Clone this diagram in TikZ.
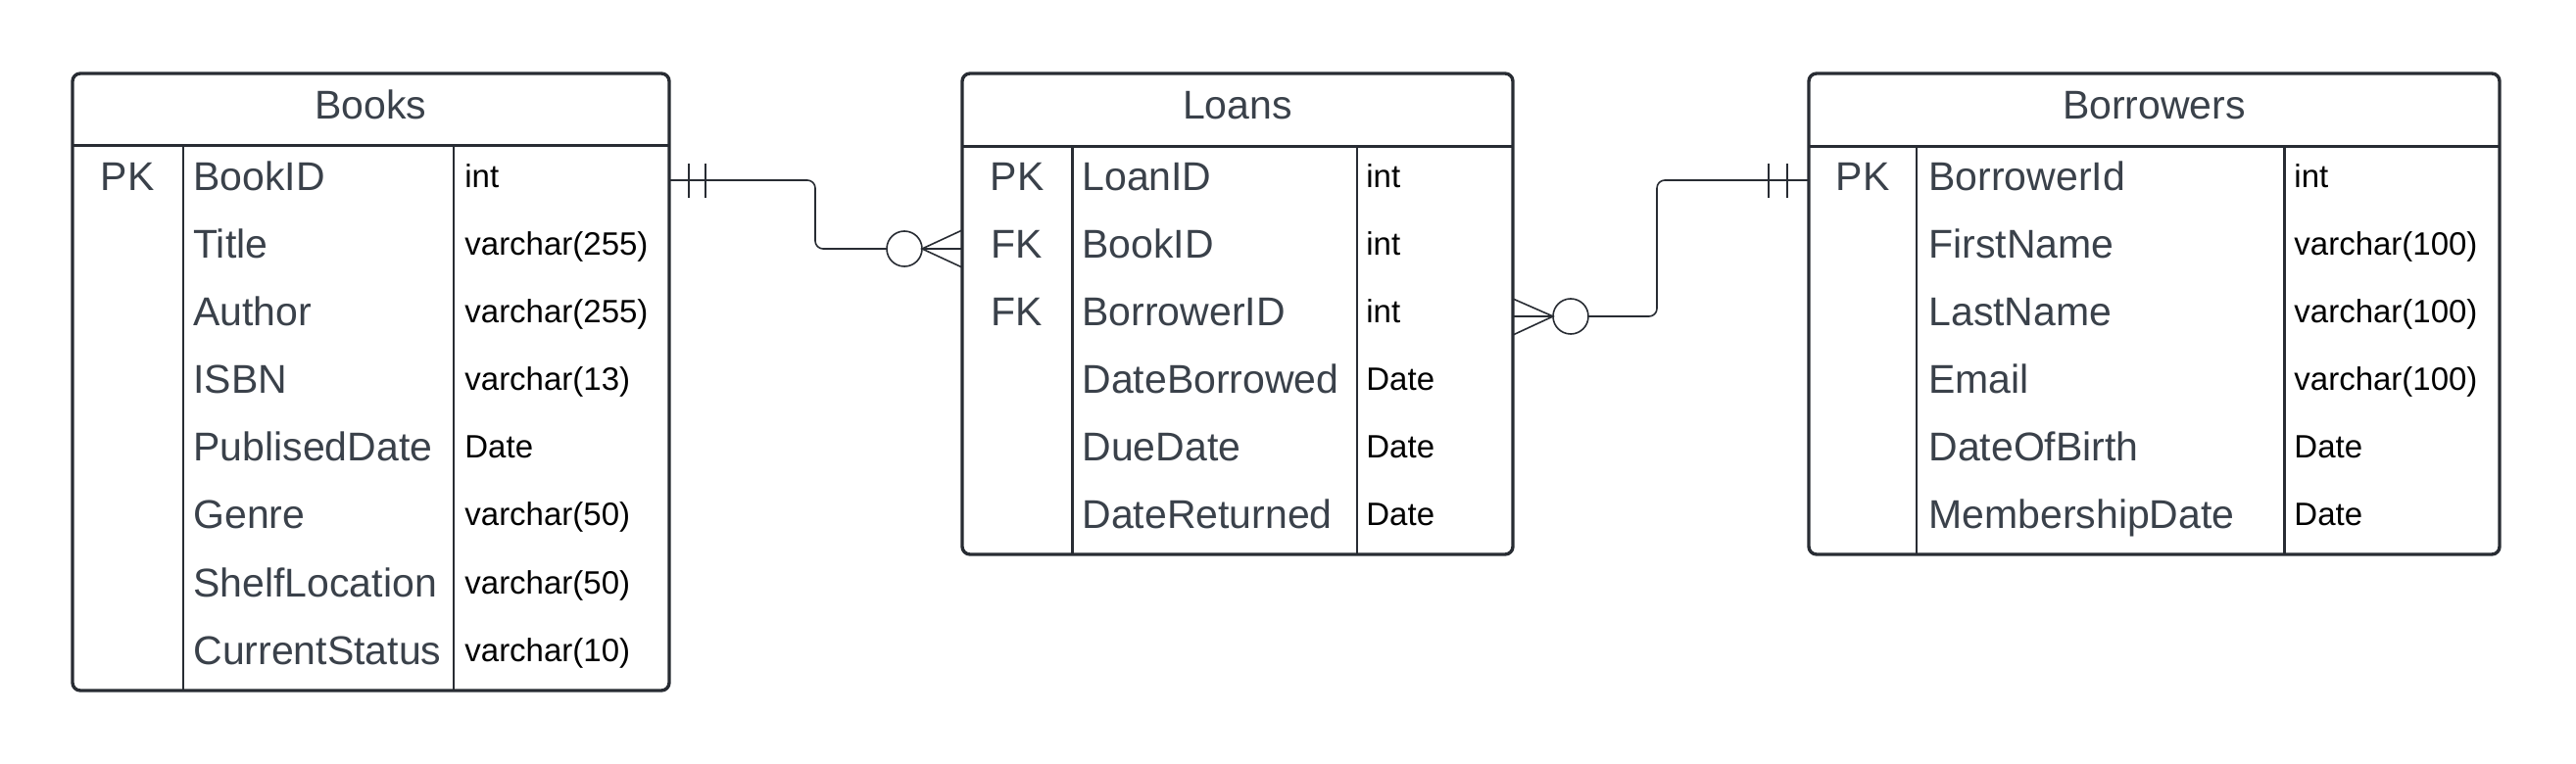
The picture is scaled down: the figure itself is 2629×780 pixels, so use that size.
\documentclass[tikz,border=0pt]{standalone}
\usepackage{fontspec}
\setmainfont{Liberation Sans}
\usepackage{tikz}
\usetikzlibrary{fit}

\definecolor{erline}{HTML}{282C33}
\definecolor{ertext}{HTML}{3A414A}

\begin{document}
\begin{tikzpicture}[x=0.5pt, y=-0.5pt,
  tbl/.style={draw=erline, line width=1.7pt, rounded corners=4pt, inner sep=0pt, outer sep=0pt},
  hline/.style={draw=erline, line width=1.5pt},
  vline/.style={draw=erline, line width=1.15pt},
  title/.style={font=\fontsize{20.5}{24}\selectfont, text=ertext, inner sep=0pt, text height=14.7pt, text depth=0pt},
  keycol/.style={font=\fontsize{20.5}{24}\selectfont, text=ertext, inner sep=0pt, text height=14.7pt, text depth=0pt},
  field/.style={font=\fontsize{20.5}{24}\selectfont, text=ertext, anchor=west, inner sep=0pt, text height=14.7pt, text depth=0pt},
  dtype/.style={font=\fontsize{16.5}{20}\selectfont, text=black, anchor=west, inner sep=0pt, text height=11.8pt, text depth=0pt},
  conn/.style={draw=erline, line width=0.8pt},
  zero/.style={circle, draw=erline, line width=0.8pt, minimum size=18pt, inner sep=0pt, outer sep=0pt}]
\useasboundingbox (0,0) rectangle (2629,780);

% Books
\node[tbl, fit={(74,75) (683,705)}] (books) {};
\draw[hline] (74,149) -- (683,149);
\draw[vline] (187,149) -- (187,705);
\draw[vline] (463,149) -- (463,705);
\node[title] (books-title) at (378.5,107) {Books};
\node[keycol] (bk-pk) at (130,180) {PK};
\node[field] (bk1) at (197,180) {BookID};
\node[field] (bk2) at (197,249) {Title};
\node[field] (bk3) at (197,318) {Author};
\node[field] (bk4) at (197,387) {ISBN};
\node[field] (bk5) at (197,456) {PublisedDate};
\node[field] (bk6) at (197,525) {Genre};
\node[field] (bk7) at (197,595) {ShelfLocation};
\node[field] (bk8) at (197,664) {CurrentStatus};
\node[dtype] (bt1) at (474,180) {int};
\node[dtype] (bt2) at (474,249) {varchar(255)};
\node[dtype] (bt3) at (474,318) {varchar(255)};
\node[dtype] (bt4) at (474,387) {varchar(13)};
\node[dtype] (bt5) at (474,456) {Date};
\node[dtype] (bt6) at (474,525) {varchar(50)};
\node[dtype] (bt7) at (474,595) {varchar(50)};
\node[dtype] (bt8) at (474,664) {varchar(10)};

% Loans
\node[tbl, fit={(982,75) (1544,566)}] (loans) {};
\draw[hline] (982,150) -- (1544,150);
\draw[vline] (1094.5,150) -- (1094.5,566);
\draw[vline] (1385,150) -- (1385,566);
\node[title] (loans-title) at (1263,107) {Loans};
\node[keycol] (ln-pk) at (1038,180) {PK};
\node[keycol] (ln-fk1) at (1038,249) {FK};
\node[keycol] (ln-fk2) at (1038,318) {FK};
\node[field] (ln1) at (1104,180) {LoanID};
\node[field] (ln2) at (1104,249) {BookID};
\node[field] (ln3) at (1104,318) {BorrowerID};
\node[field] (ln4) at (1104,387) {DateBorrowed};
\node[field] (ln5) at (1104,456) {DueDate};
\node[field] (ln6) at (1104,525) {DateReturned};
\node[dtype] (lt1) at (1394,180) {int};
\node[dtype] (lt2) at (1394,249) {int};
\node[dtype] (lt3) at (1394,318) {int};
\node[dtype] (lt4) at (1394,387) {Date};
\node[dtype] (lt5) at (1394,456) {Date};
\node[dtype] (lt6) at (1394,525) {Date};

% Borrowers
\node[tbl, fit={(1846,75) (2551,566)}] (borrowers) {};
\draw[hline] (1846,150) -- (2551,150);
\draw[vline] (1956,150) -- (1956,566);
\draw[vline] (2331.5,150) -- (2331.5,566);
\node[title] (borrowers-title) at (2198.5,107) {Borrowers};
\node[keycol] (br-pk) at (1901,180) {PK};
\node[field] (br1) at (1968,180) {BorrowerId};
\node[field] (br2) at (1968,249) {FirstName};
\node[field] (br3) at (1968,318) {LastName};
\node[field] (br4) at (1968,387) {Email};
\node[field] (br5) at (1968,456) {DateOfBirth};
\node[field] (br6) at (1968,525) {MembershipDate};
\node[dtype] (rt1) at (2341,180) {int};
\node[dtype] (rt2) at (2341,249) {varchar(100)};
\node[dtype] (rt3) at (2341,318) {varchar(100)};
\node[dtype] (rt4) at (2341,387) {varchar(100)};
\node[dtype] (rt5) at (2341,456) {Date};
\node[dtype] (rt6) at (2341,525) {Date};

% Books -> Loans (one to zero-or-many)
\node[zero] (zero1) at (923,254) {};
\draw[conn, rounded corners=4pt] (books.east |- 0,184) -- (832,184) -- (832,254) -- (zero1.west);
\draw[conn] (703,167) -- (703,202);
\draw[conn] (720,167) -- (720,202);
\draw[conn] (loans.west |- 0,235) -- (zero1.east) -- (loans.west |- 0,273);
\draw[conn] (zero1.east) -- (loans.west |- 0,254);

% Loans -> Borrowers (zero-or-many to one)
\node[zero] (zero2) at (1603,323) {};
\draw[conn] (loans.east |- 0,305) -- (zero2.west) -- (loans.east |- 0,342);
\draw[conn] (loans.east |- 0,323) -- (zero2.west);
\draw[conn, rounded corners=4pt] (zero2.east) -- (1691,323) -- (1691,184) -- (borrowers.west |- 0,184);
\draw[conn] (1805,167) -- (1805,202);
\draw[conn] (1824,167) -- (1824,202);
\end{tikzpicture}
\end{document}
